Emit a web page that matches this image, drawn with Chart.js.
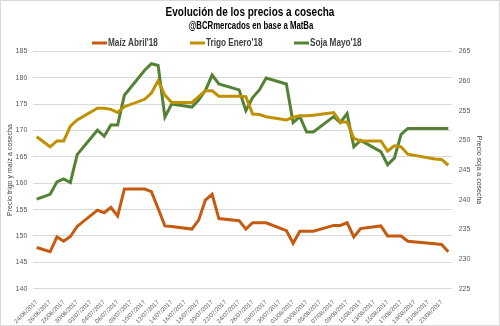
<!DOCTYPE html>
<html>
<head>
<meta charset="utf-8">
<script src="https://cdn.jsdelivr.net/npm/chart.js@4.4.1/dist/chart.umd.min.js"></script>
<style>
  html, body { margin: 0; padding: 0; background: #fff; }
</style>
</head>
<body>
<canvas id="myChart" width="500" height="326"></canvas>
<script>
// days counted from 24/06/2017
const days = [0, 2, 3, 4, 5, 6, 9, 10, 11, 12, 13, 16, 17, 18, 19, 20, 23, 24, 25, 26, 27,
  30, 31, 32, 33, 34, 37, 38, 39, 40, 41, 44, 45, 46, 47, 48, 51, 52, 53, 54, 55, 59, 60, 61];

const maiz = [147.8, 147.0, 149.8, 149.0, 149.9, 151.8, 154.9, 154.4, 155.4, 153.8, 158.9,
  158.9, 158.4, 155.2, 151.9, 151.8, 151.3, 153.0, 156.8, 157.9, 153.3,
  152.9, 151.3, 152.5, 152.5, 152.5, 151.0, 148.6, 150.9, 150.9, 150.9,
  152.0, 152.0, 152.5, 149.8, 151.4, 151.9, 150.0, 150.0, 150.0, 149.0,
  148.5, 148.4, 147.0];

const trigo = [168.8, 166.9, 168.0, 168.0, 170.8, 172.0, 174.2, 174.2, 174.0, 173.4, 174.5,
  175.9, 177.1, 179.4, 176.7, 175.3, 175.3, 176.4, 177.5, 177.5, 176.5,
  176.5, 176.4, 173.1, 173.0, 172.6, 172.0, 172.5, 172.8, 172.8, 172.9,
  173.4, 171.6, 171.6, 168.5, 168.0, 168.0, 166.1, 167.1, 166.9, 165.5,
  164.6, 164.5, 163.4];

const soja = [240.1, 240.9, 243.0, 243.5, 242.9, 247.6, 251.7, 250.7, 252.6, 252.6, 257.6,
  261.8, 262.9, 262.6, 253.9, 256.1, 255.6, 256.8, 258.4, 261.0, 259.5,
  258.5, 255.0, 257.2, 258.5, 260.5, 259.5, 253.0, 254.0, 251.4, 251.4,
  254.0, 253.0, 254.5, 248.9, 250.0, 248.1, 245.9, 247.0, 251.0, 252.0,
  252.0, 252.0, 252.0];

const tickLabels = ['24/06/2017', '26/06/2017', '28/06/2017', '30/06/2017', '02/07/2017',
  '04/07/2017', '06/07/2017', '08/07/2017', '10/07/2017', '12/07/2017', '14/07/2017',
  '16/07/2017', '18/07/2017', '20/07/2017', '22/07/2017', '24/07/2017', '26/07/2017',
  '28/07/2017', '30/07/2017', '01/08/2017', '03/08/2017', '05/08/2017', '07/08/2017',
  '09/08/2017', '11/08/2017', '13/08/2017', '15/08/2017', '17/08/2017', '19/08/2017',
  '21/08/2017', '23/08/2017'];

const titleText = 'Evolución de los precios a cosecha';
const subtitleText = '@BCRmercados en base a MatBa';
const legendX = [92, 190, 294];

function toPoints(values) {
  return values.map((v, i) => ({ x: days[i], y: v }));
}

// draw text squeezed horizontally (the original uses a condensed font)
function squeezed(ctx, text, x, y, font, squeeze, align) {
  ctx.save();
  ctx.font = font;
  ctx.textBaseline = 'middle';
  ctx.textAlign = align;
  ctx.translate(x, y);
  ctx.scale(squeeze, 1);
  ctx.fillText(text, 0, 0);
  ctx.restore();
}

const decor = {
  id: 'decor',
  beforeDraw(chart) {
    const ctx = chart.ctx;
    ctx.save();
    ctx.fillStyle = '#fff';
    ctx.fillRect(0, 0, chart.width, chart.height);
    ctx.restore();
  },
  afterDraw(chart) {
    const ctx = chart.ctx;
    ctx.save();
    ctx.strokeStyle = '#d9d9d9';
    ctx.lineWidth = 1;
    ctx.strokeRect(0.5, 0.5, chart.width - 1, chart.height - 1);

    ctx.fillStyle = '#000';
    squeezed(ctx, titleText, 250, 12.5, "bold 13.5px 'Liberation Sans', sans-serif", 0.74, 'center');
    squeezed(ctx, subtitleText, 251, 26.5, "bold 10px 'Liberation Sans', sans-serif", 0.78, 'center');

    chart.data.datasets.forEach((ds, i) => {
      const x = legendX[i], y = 43;
      ctx.strokeStyle = ds.borderColor;
      ctx.lineWidth = 3;
      ctx.beginPath();
      ctx.moveTo(x, y);
      ctx.lineTo(x + 15, y);
      ctx.stroke();
      ctx.fillStyle = '#404040';
      squeezed(ctx, ds.label, x + 16, y + 0.5, "bold 10px 'Liberation Sans', sans-serif", 0.82, 'left');
    });
    ctx.restore();
  }
};

Chart.defaults.font.family = "'Liberation Sans', sans-serif";

const chart = new Chart('myChart', {
  type: 'line',
  data: {
    datasets: [
      { label: "Maíz Abril'18", data: toPoints(maiz), borderColor: '#C55A11', yAxisID: 'y' },
      { label: "Trigo Enero'18", data: toPoints(trigo), borderColor: '#BF9000', yAxisID: 'y' },
      { label: "Soja Mayo'18", data: toPoints(soja), borderColor: '#548235', yAxisID: 'y1' }
    ]
  },
  options: {
    responsive: false,
    animation: false,
    layout: { padding: { top: 51.3, left: 0, right: 0, bottom: 0 } },
    elements: {
      point: { radius: 0 },
      line: { borderWidth: 3, tension: 0, fill: false }
    },
    plugins: {
      legend: { display: false },
      tooltip: { enabled: false },
      title: { display: false },
      subtitle: { display: false }
    },
    scales: {
      x: {
        type: 'linear',
        min: -0.5,
        max: 61.5,
        grid: { display: false },
        border: { display: false },
        afterBuildTicks: s => { s.ticks = tickLabels.map((_, i) => ({ value: i * 2 })); },
        afterFit: s => { s.height = 37.3; },
        ticks: {
          autoSkip: false,
          minRotation: 45,
          maxRotation: 45,
          padding: 2,
          color: '#595959',
          font: { size: 6 },
          callback: (v, i) => tickLabels[i]
        }
      },
      y: {
        position: 'left',
        min: 140,
        max: 185,
        border: { display: false },
        grid: { color: '#d9d9d9', drawTicks: false },
        ticks: { stepSize: 5, padding: 6, color: '#595959', font: { size: 7 } },
        title: {
          display: true,
          text: 'Precio trigo y maíz a cosecha',
          color: '#404040',
          font: { size: 7 },
          padding: { top: 6, bottom: 0 }
        },
        afterFit: s => { s.width = 33.3; }
      },
      y1: {
        position: 'right',
        min: 225,
        max: 265,
        border: { display: false },
        grid: { display: false, drawTicks: false },
        ticks: { stepSize: 5, padding: 7, color: '#595959', font: { size: 7 } },
        title: {
          display: true,
          text: 'Precio soja a cosecha',
          color: '#404040',
          font: { size: 7 },
          padding: { top: 17, bottom: 0 }
        },
        afterFit: s => { s.width = 48.3; }
      }
    }
  },
  plugins: [decor]
});
</script>
</body>
</html>
